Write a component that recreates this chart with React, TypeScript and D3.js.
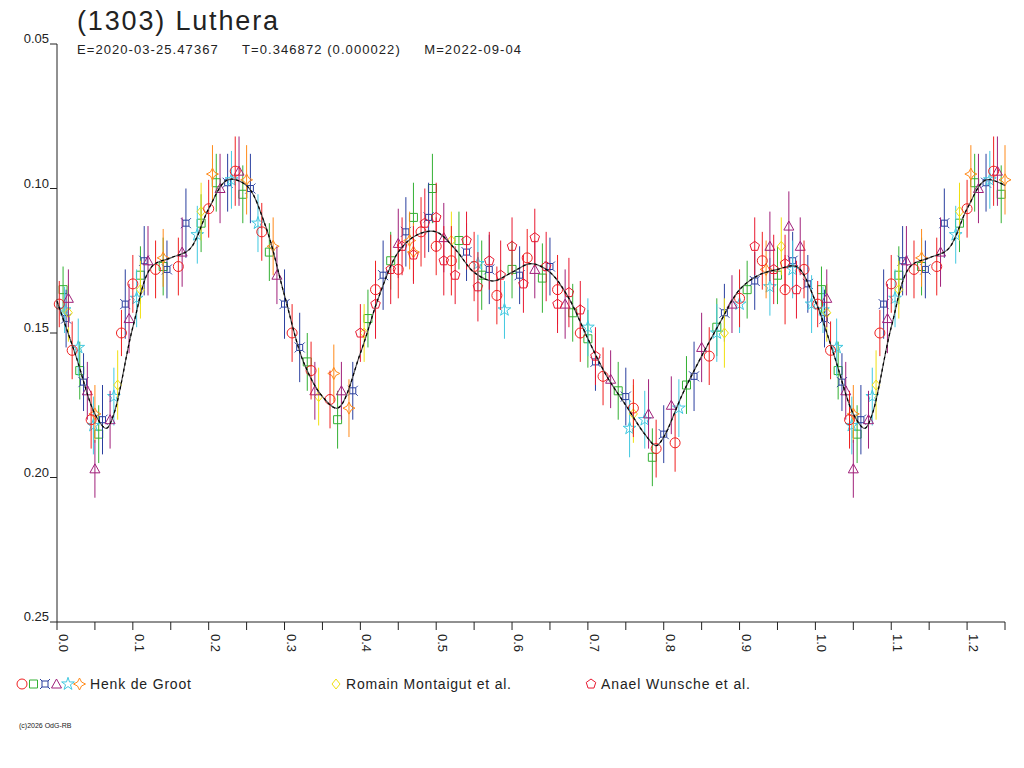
import React from 'react';
import * as d3 from 'd3';

// fitted curve (phase, mag)
const curvePhase = [0, 0.025, 0.05, 0.065, 0.075, 0.1, 0.125, 0.15, 0.175, 0.2, 0.225, 0.25, 0.275, 0.3, 0.325, 0.35, 0.37, 0.4, 0.425, 0.45, 0.475, 0.5, 0.525, 0.55, 0.575, 0.6, 0.625, 0.65, 0.675, 0.7, 0.725, 0.75, 0.775, 0.79, 0.8, 0.825, 0.85, 0.875, 0.9, 0.925, 0.95, 0.975, 1.0, 1.025, 1.05, 1.065, 1.075, 1.1, 1.125, 1.15, 1.175, 1.2, 1.225, 1.25];
const curveMag = [0.139, 0.158, 0.178, 0.183, 0.178, 0.148, 0.127, 0.124, 0.121, 0.107, 0.097, 0.099, 0.113, 0.137, 0.16, 0.172, 0.176, 0.157, 0.137, 0.122, 0.116, 0.115, 0.121, 0.129, 0.132, 0.129, 0.126, 0.129, 0.138, 0.152, 0.165, 0.175, 0.185, 0.189, 0.186, 0.171, 0.158, 0.146, 0.135, 0.13, 0.128, 0.127, 0.139, 0.158, 0.178, 0.183, 0.178, 0.148, 0.127, 0.124, 0.121, 0.107, 0.097, 0.099];

type Pt = [number, number, number];

const circles: Pt[] = [[0.003, 0.140, 0.008], [0.02, 0.156, 0.01], [0.045, 0.180, 0.01], [0.085, 0.150, 0.008], [0.1, 0.133, 0.01], [0.13, 0.128, 0.01], [0.16, 0.127, 0.01], [0.2, 0.107, 0.01], [0.235, 0.094, 0.012], [0.27, 0.115, 0.01], [0.31, 0.15, 0.01], [0.335, 0.163, 0.01], [0.36, 0.173, 0.01], [0.42, 0.135, 0.01], [0.45, 0.128, 0.01], [0.48, 0.115, 0.012], [0.5, 0.12, 0.01], [0.52, 0.125, 0.012], [0.55, 0.127, 0.012], [0.58, 0.137, 0.01], [0.62, 0.124, 0.01], [0.66, 0.135, 0.012], [0.69, 0.15, 0.01], [0.72, 0.165, 0.01], [0.76, 0.176, 0.01], [0.79, 0.19, 0.01], [0.815, 0.188, 0.01], [0.86, 0.158, 0.01], [0.9, 0.138, 0.01], [0.93, 0.125, 0.01], [0.96, 0.135, 0.012], [0.985, 0.128, 0.01]];
const squares: Pt[] = [[0.008, 0.135, 0.008], [0.03, 0.163, 0.01], [0.055, 0.185, 0.01], [0.11, 0.13, 0.01], [0.14, 0.127, 0.01], [0.19, 0.112, 0.01], [0.21, 0.098, 0.01], [0.245, 0.102, 0.01], [0.28, 0.122, 0.01], [0.33, 0.16, 0.01], [0.37, 0.18, 0.01], [0.41, 0.145, 0.01], [0.44, 0.125, 0.01], [0.47, 0.11, 0.012], [0.495, 0.1, 0.012], [0.53, 0.118, 0.01], [0.56, 0.13, 0.012], [0.6, 0.128, 0.01], [0.64, 0.131, 0.012], [0.68, 0.143, 0.01], [0.7, 0.152, 0.01], [0.74, 0.17, 0.01], [0.785, 0.193, 0.01], [0.83, 0.168, 0.01], [0.87, 0.148, 0.01], [0.91, 0.135, 0.01], [0.95, 0.13, 0.01]];
const bowties: Pt[] = [[0.012, 0.145, 0.01], [0.035, 0.167, 0.01], [0.06, 0.18, 0.012], [0.09, 0.14, 0.012], [0.115, 0.125, 0.012], [0.145, 0.128, 0.01], [0.17, 0.112, 0.012], [0.225, 0.098, 0.01], [0.255, 0.1, 0.012], [0.3, 0.14, 0.012], [0.32, 0.155, 0.012], [0.39, 0.17, 0.01], [0.43, 0.13, 0.012], [0.46, 0.115, 0.012], [0.49, 0.11, 0.012], [0.54, 0.122, 0.01], [0.57, 0.128, 0.012], [0.61, 0.13, 0.01], [0.65, 0.127, 0.01], [0.71, 0.16, 0.01], [0.75, 0.172, 0.01], [0.8, 0.185, 0.01], [0.84, 0.165, 0.012], [0.88, 0.143, 0.01], [0.92, 0.132, 0.01], [0.97, 0.125, 0.01], [0.99, 0.133, 0.01]];
const triangles: Pt[] = [[0.015, 0.138, 0.01], [0.04, 0.17, 0.01], [0.05, 0.197, 0.01], [0.07, 0.18, 0.01], [0.095, 0.145, 0.012], [0.12, 0.125, 0.012], [0.165, 0.122, 0.012], [0.215, 0.1, 0.012], [0.24, 0.094, 0.012], [0.29, 0.13, 0.01], [0.34, 0.17, 0.01], [0.375, 0.17, 0.01], [0.45, 0.119, 0.012], [0.51, 0.117, 0.012], [0.63, 0.128, 0.01], [0.67, 0.14, 0.012], [0.73, 0.166, 0.01], [0.78, 0.178, 0.012], [0.81, 0.175, 0.01], [0.85, 0.155, 0.012], [0.89, 0.14, 0.01], [0.94, 0.12, 0.012], [0.965, 0.113, 0.012], [0.98, 0.12, 0.01]];
const stars: Pt[] = [[0.01, 0.142, 0.008], [0.028, 0.155, 0.01], [0.048, 0.182, 0.01], [0.075, 0.172, 0.01], [0.105, 0.138, 0.01], [0.185, 0.116, 0.01], [0.23, 0.097, 0.01], [0.265, 0.112, 0.01], [0.555, 0.126, 0.01], [0.59, 0.142, 0.01], [0.7, 0.148, 0.01], [0.755, 0.183, 0.01], [0.775, 0.18, 0.01], [0.82, 0.176, 0.01], [0.87, 0.15, 0.01], [0.9, 0.14, 0.01], [0.94, 0.134, 0.01], [0.97, 0.128, 0.01], [0.995, 0.14, 0.01]];
const fourStars: Pt[] = [[0.05, 0.178, 0.01], [0.14, 0.124, 0.01], [0.205, 0.095, 0.01], [0.25, 0.097, 0.012], [0.285, 0.12, 0.01], [0.365, 0.164, 0.01], [0.385, 0.176, 0.01], [0.465, 0.118, 0.01], [0.47, 0.122, 0.01], [0.935, 0.128, 0.01]];
const diamonds: Pt[] = [[0.015, 0.143, 0.01], [0.08, 0.168, 0.012], [0.11, 0.135, 0.01], [0.19, 0.108, 0.01], [0.345, 0.172, 0.01], [0.405, 0.15, 0.01], [0.52, 0.118, 0.01], [0.76, 0.178, 0.01], [0.88, 0.15, 0.012], [0.955, 0.12, 0.01]];
const pentagons: Pt[] = [[0.4, 0.15, 0.01], [0.42, 0.14, 0.012], [0.44, 0.128, 0.012], [0.455, 0.12, 0.01], [0.47, 0.123, 0.01], [0.485, 0.112, 0.012], [0.5, 0.11, 0.012], [0.51, 0.125, 0.012], [0.525, 0.13, 0.01], [0.54, 0.118, 0.01], [0.555, 0.134, 0.012], [0.57, 0.125, 0.01], [0.585, 0.13, 0.012], [0.6, 0.12, 0.01], [0.615, 0.133, 0.01], [0.63, 0.117, 0.01], [0.645, 0.127, 0.012], [0.66, 0.14, 0.01], [0.675, 0.136, 0.012], [0.69, 0.142, 0.01], [0.71, 0.158, 0.01], [0.92, 0.12, 0.01], [0.945, 0.128, 0.012], [0.96, 0.126, 0.01], [0.975, 0.135, 0.01]];

const yTicks = [0.05, 0.1, 0.15, 0.2, 0.25];
const xTicks = [0, 0.1, 0.2, 0.3, 0.4, 0.5, 0.6, 0.7, 0.8, 0.9, 1.0, 1.1, 1.2];

const x = d3.scaleLinear().domain([0, 1.25]).range([57, 1005]);
const y = d3.scaleLinear().domain([0.05, 0.25]).range([44, 622]);
const font = '"Liberation Sans", Arial, sans-serif';

const pentPath = (r: number) => {
  const p = d3.range(5).map(i => { const a = -Math.PI / 2 + i * 2 * Math.PI / 5; return [r * Math.cos(a), r * Math.sin(a)]; });
  return 'M' + p.map(q => q.join(',')).join('L') + 'Z';
};
const shapes: Record<string, string> = {
  circle: 'M5,0A5,5 0 1,1 -5,0A5,5 0 1,1 5,0Z',
  square: 'M-4,-4H4V4H-4Z',
  bowtie: 'M-3,-3H3V3H-3Z M-3,-3L-5,-5 M3,-3L5,-5 M3,3L5,5 M-3,3L-5,5',
  triangle: 'M0,-5L5,4H-5Z',
  star: d3.symbol(d3.symbolStar, 50)() as string,
  four: 'M0,-6L2,-2L6,0L2,2L0,6L-2,2L-6,0L-2,-2Z',
  diamond: 'M0,-5L4,0L0,5L-4,0Z',
  pent: pentPath(5),
};

const seriesList: { pts: Pt[]; shape: string; color: string }[] = [
  { pts: squares, shape: 'square', color: '#33b033' },
  { pts: bowties, shape: 'bowtie', color: '#2a3f9f' },
  { pts: stars, shape: 'star', color: '#40c8e0' },
  { pts: fourStars, shape: 'four', color: '#ff8a1a' },
  { pts: diamonds, shape: 'diamond', color: '#f0e010' },
  { pts: triangles, shape: 'triangle', color: '#a0207a' },
  { pts: circles, shape: 'circle', color: '#f02020' },
  { pts: pentagons, shape: 'pent', color: '#e81830' },
];

const withWrap = (pts: Pt[]) => pts.concat(pts.filter(p => p[0] <= 0.25).map(p => [p[0] + 1, p[1], p[2]] as Pt));

export default function App() {
  const line = d3.line<number>().x((_, i) => x(curvePhase[i])).y(d => y(d)).curve(d3.curveCatmullRom);
  return (
    <svg width={1024} height={768} style={{ position: 'absolute', left: 0, top: 0, background: '#fff' }} fontFamily={font}>
      <text x={77} y={30} fontSize={27} fill="#222" textLength={201}>(1303) Luthera</text>
      <text x={77} y={54} fontSize={13} fill="#222" xmlSpace="preserve" textLength={444}>E=2020-03-25.47367     T=0.346872 (0.000022)     M=2022-09-04</text>
      {seriesList.map((s, si) => (
        <g key={si} stroke={s.color} fill="none" strokeWidth={1}>
          {withWrap(s.pts).map((p, i) => (
            <g key={i}>
              <line x1={x(p[0])} x2={x(p[0])} y1={y(p[1] - p[2])} y2={y(p[1] + p[2])} />
              <path d={shapes[s.shape]} transform={`translate(${x(p[0])},${y(p[1])})`} />
            </g>
          ))}
        </g>
      ))}
      <path d={line(curveMag) as string} fill="none" stroke="#555" strokeWidth={1.2} />
      <path d={line(curveMag) as string} fill="none" stroke="#000" strokeWidth={1.2} strokeDasharray="3,3" />
      <line x1={57} x2={57} y1={44} y2={622} stroke="#222" />
      <line x1={57} x2={1005} y1={622} y2={622} stroke="#222" />
      {yTicks.map(t => (
        <g key={t}>
          <line x1={50} x2={57} y1={y(t)} y2={y(t)} stroke="#222" />
          <text x={49} y={y(t) - 1} fontSize={13} textAnchor="end" fill="#222">{t.toFixed(2)}</text>
        </g>
      ))}
      {d3.range(0, 26).map(i => (
        <line key={i} x1={x(i * 0.05)} x2={x(i * 0.05)} y1={622} y2={630} stroke="#222" />
      ))}
      {xTicks.map(t => (
        <text key={t} transform={`translate(${x(t) + 2},${634}) rotate(90)`} fontSize={13} fill="#222">{t.toFixed(1)}</text>
      ))}
      <g fill="none" strokeWidth={1}>
        {[['circle', '#f02020'], ['square', '#33b033'], ['bowtie', '#2a3f9f'], ['triangle', '#a0207a'], ['star', '#40c8e0'], ['four', '#ff8a1a']].map((m, i) => (
          <path key={i} d={shapes[m[0]]} stroke={m[1]} transform={`translate(${22 + i * 11.5},684)`} />
        ))}
        <path d={shapes.diamond} stroke="#f0e010" transform="translate(336,684)" />
        <path d={shapes.pent} stroke="#e81830" transform="translate(591,684)" />
      </g>
      <text x={90} y={689} fontSize={14} fill="#222" textLength={101}>Henk de Groot</text>
      <text x={346} y={689} fontSize={14} fill="#222" textLength={165}>Romain Montaigut et al.</text>
      <text x={601} y={689} fontSize={14} fill="#222" textLength={149}>Anael Wunsche et al.</text>
      <text x={19} y={728} fontSize={7} fill="#222">(c)2026 OdG-RB</text>
    </svg>
  );
}
